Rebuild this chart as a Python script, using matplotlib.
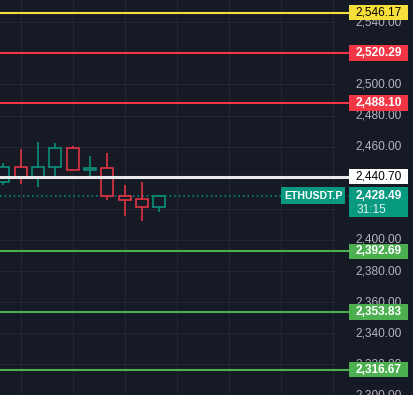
import matplotlib.pyplot as plt
import matplotlib.transforms as mtransforms
from matplotlib.patches import Rectangle

# ── Data ──────────────────────────────────────────────────────────────────────
opens  = [2437.5, 2446.7, 2440.7, 2446.7, 2458.9, 2444.8, 2446.1, 2428.1, 2426.2, 2421.4]
highs  = [2449.7, 2458.5, 2463.0, 2462.1, 2460.6, 2454.0, 2455.9, 2435.3, 2437.3, 2428.9]
lows   = [2435.3, 2436.0, 2434.3, 2441.1, 2444.8, 2441.1, 2425.7, 2415.6, 2412.4, 2418.2]
closes = [2446.7, 2440.7, 2446.7, 2458.9, 2444.8, 2446.1, 2428.1, 2425.9, 2421.4, 2428.49]

level_prices = [2546.17, 2520.29, 2488.10, 2440.70, 2392.69, 2353.83, 2316.67]
level_kinds  = ['yellow', 'red', 'red', 'white', 'green', 'green', 'green']

last_price = 2428.49
symbol     = 'ETHUSDT.P'
countdown  = '31:15'
tick_values = list(range(2300, 2560, 20))

# ── Style ─────────────────────────────────────────────────────────────────────
BG    = '#161a25'
GRID  = '#232734'
UP    = '#089981'
DOWN  = '#f23645'
TICK  = '#b2b5be'
FONT  = 'Liberation Sans'
FS    = 8.6
kind_style = {
    'yellow': dict(line='#f7df3b', box='#f7df3b', text='black', lw=1.5),
    'red':    dict(line='#f23645', box='#f23645', text='white', lw=1.5),
    'white':  dict(line='#e8e8ea', box='#ffffff', text='black', lw=2.2),
    'green':  dict(line='#4caf50', box='#4caf50', text='white', lw=1.5),
}

W, H = 413, 395
px_unit = 1.556                       # pixels per price unit
ymin = 2400 - (H - 240) / px_unit
ymax = 2400 + 240 / px_unit
box_h = 15.5 / px_unit
AX_X0 = 349 / W                        # price scale labels start
AX_X1 = 408 / W
LAB_C = (AX_X0 + AX_X1) / 2

fig = plt.figure(figsize=(W / 100, H / 100), dpi=100, facecolor=BG)
ax = fig.add_axes([0, 0, 1, 1])
ax.set_facecolor(BG)
ax.set_xlim(-0.19, (W - 3.3) / 17.33)
ax.set_ylim(ymin, ymax)
ax.axis('off')
tr = mtransforms.blended_transform_factory(ax.transAxes, ax.transData)

# grid
for v in tick_values:
    ax.axhline(v, xmax=AX_X0 - 0.035, color=GRID, lw=0.8, zorder=0)
for i in range(1, 20, 3):
    ax.axvline(i, color=GRID, lw=0.8, zorder=0)

# tick labels
for v in tick_values:
    ax.text(LAB_C, v, f'{v:,.2f}', transform=tr, ha='center', va='center',
            color=TICK, fontsize=FS, family=FONT, zorder=1)

# candles
bw = 0.69
for i, (o, h, l, c) in enumerate(zip(opens, highs, lows, closes)):
    col = UP if c >= o else DOWN
    top, bot = max(o, c), min(o, c)
    ax.vlines(i, top, h, color=col, lw=1.1, zorder=3)
    ax.vlines(i, l, bot, color=col, lw=1.1, zorder=3)
    ax.add_patch(Rectangle((i - bw / 2, bot), bw, max(top - bot, 0.3),
                           facecolor=BG, edgecolor=col, lw=1.1, zorder=3))

# last price dotted line
ax.axhline(last_price, xmax=AX_X0, color=UP, lw=1.1, ls=(0, (1, 2)), zorder=2)

# horizontal levels and their labels
for p, k in zip(level_prices, level_kinds):
    st = kind_style[k]
    ax.axhline(p, xmax=AX_X0, color=st['line'], lw=st['lw'], zorder=4)
    ax.add_patch(Rectangle((AX_X0, p - box_h / 2), AX_X1 - AX_X0, box_h,
                           transform=tr, facecolor=st['box'], lw=0, zorder=5))
    ax.text(LAB_C, p, f'{p:,.2f}', transform=tr, ha='center', va='center',
            color=st['text'], fontsize=FS, family=FONT,
            fontweight='bold' if st['text'] == 'white' else 'normal', zorder=6)

# last price label (symbol + price + countdown)
top_lp = last_price + 8.5 / px_unit
tall = 30 / px_unit
ax.add_patch(Rectangle((AX_X0, top_lp - tall), AX_X1 - AX_X0, tall,
                       transform=tr, facecolor=UP, lw=0, zorder=5))
ax.text(LAB_C, last_price, f'{last_price:,.2f}', transform=tr, ha='center',
        va='center', color='white', fontsize=FS, family=FONT, fontweight='bold', zorder=6)
ax.text(357 / W, last_price - 14.5 / px_unit, countdown, transform=tr, ha='left',
        va='center', color='#e0f2ee', fontsize=FS, family=FONT, zorder=6)
sym_x0, sym_x1 = 281 / W, 345 / W
ax.add_patch(Rectangle((sym_x0, top_lp - 17 / px_unit), sym_x1 - sym_x0, 17 / px_unit,
                       transform=tr, facecolor=UP, lw=0, zorder=5))
ax.text((sym_x0 + sym_x1) / 2, last_price, symbol, transform=tr, ha='center',
        va='center', color='white', fontsize=7.6, family=FONT, fontweight='bold', zorder=6)

fig.savefig('out.png', dpi=100, facecolor=BG)
